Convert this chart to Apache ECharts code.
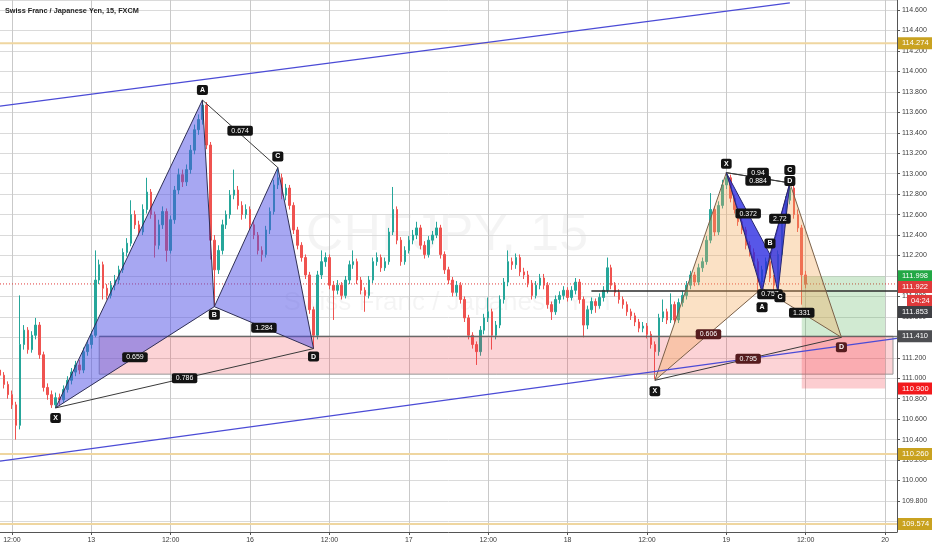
<!DOCTYPE html>
<html lang="en">
<head>
<meta charset="UTF-8">
<title>CHFJPY 15</title>
<script src="https://cdn.jsdelivr.net/npm/echarts@6/dist/echarts.min.js"></script>
<style>html,body{margin:0;padding:0;background:#fff;}</style>
</head>
<body>
<div id="main" style="width:932px;height:550px;"></div>
<script>
// x axis: one category per bar, a time label every 20 bars
const timeLabels = ['12:00', '13', '12:00', '16', '12:00', '17', '12:00', '18', '12:00', '19', '12:00', '20'];
const firstLabelBar = 3;
const barsPerLabel = 20;
const barCount = 227;

// candles: [open, close, low, high]
const ohlc = [
  [111.08,111.03,110.99,111.12],[111.03,110.94,110.90,111.06],[110.94,110.84,110.80,110.97],[110.84,110.74,110.70,110.88],
  [110.74,110.54,110.40,110.77],[110.54,111.33,110.50,111.81],[111.33,111.47,111.28,111.52],[111.47,111.28,111.24,111.50],
  [111.28,111.42,111.25,111.46],[111.42,111.52,111.38,111.59],[111.52,111.23,111.19,111.55],[111.23,110.91,110.87,111.26],
  [110.91,110.84,110.79,110.95],[110.84,110.74,110.71,110.88],[110.74,110.81,110.71,110.86],[110.81,110.79,110.74,110.85],
  [110.79,110.89,110.76,110.93],[110.89,110.98,110.86,111.02],[110.98,111.06,110.94,111.10],[111.06,111.13,111.02,111.17],
  [111.13,111.08,111.04,111.18],[111.08,111.26,111.05,111.30],[111.26,111.33,111.22,111.37],[111.33,111.42,111.29,111.46],
  [111.42,111.96,111.40,112.25],[111.96,112.11,111.92,112.16],[112.11,111.88,111.77,112.14],[111.88,111.81,111.77,111.92],
  [111.81,111.91,111.78,111.95],[111.91,111.96,111.86,112.01],[111.96,112.06,111.92,112.10],[112.06,112.23,112.03,112.27],
  [112.23,112.32,112.19,112.37],[112.32,112.60,112.29,112.74],[112.60,112.50,112.46,112.64],[112.50,112.43,112.39,112.54],
  [112.43,112.65,112.40,112.70],[112.65,112.82,112.61,112.96],[112.82,112.60,112.56,112.85],[112.60,112.30,112.18,112.63],
  [112.30,112.50,112.26,112.55],[112.50,112.63,112.46,112.68],[112.63,112.25,112.14,112.66],[112.25,112.55,112.22,112.59],
  [112.55,112.84,112.51,112.88],[112.84,112.99,112.80,113.05],[112.99,112.92,112.87,113.04],[112.92,113.04,112.88,113.09],
  [113.04,113.23,113.00,113.28],[113.23,113.43,113.19,113.48],[113.43,113.53,113.38,113.58],[113.53,113.67,113.48,113.72],
  [113.67,113.28,113.24,113.70],[113.28,112.35,112.16,113.31],[112.35,112.06,111.70,112.40],[112.06,112.25,112.02,112.30],
  [112.25,112.50,112.21,112.55],[112.50,112.60,112.46,112.64],[112.60,112.79,112.56,112.84],[112.79,112.84,112.75,113.04],
  [112.84,112.69,112.65,112.88],[112.69,112.60,112.55,112.73],[112.60,112.65,112.56,112.70],[112.65,112.50,112.46,112.68],
  [112.50,112.40,112.36,112.54],[112.40,112.25,112.21,112.43],[112.25,112.21,112.14,112.29],[112.21,112.45,112.18,112.49],
  [112.45,112.63,112.41,112.67],[112.63,112.89,112.60,112.94],[112.89,112.96,112.85,113.06],[112.96,112.79,112.75,113.00],
  [112.79,112.86,112.74,112.90],[112.86,112.69,112.65,112.89],[112.69,112.45,112.41,112.72],[112.45,112.30,112.26,112.48],
  [112.30,112.18,112.14,112.33],[112.18,112.01,111.97,112.21],[112.01,111.67,111.63,112.04],[111.67,111.42,111.29,111.70],
  [111.42,112.01,111.38,112.05],[112.01,112.14,111.97,112.25],[112.14,112.18,112.09,112.23],[112.18,111.91,111.87,112.21],
  [111.91,111.86,111.57,111.95],[111.86,111.91,111.82,111.96],[111.91,111.81,111.77,111.94],[111.81,111.96,111.78,112.00],
  [111.96,112.11,111.92,112.15],[112.11,112.14,112.07,112.25],[112.14,111.96,111.92,112.17],[111.96,111.86,111.82,111.99],
  [111.86,111.81,111.65,111.89],[111.81,111.96,111.78,112.00],[111.96,112.14,111.93,112.18],[112.14,112.18,112.10,112.23],
  [112.18,112.08,112.04,112.21],[112.08,112.14,112.05,112.18],[112.14,112.43,112.11,112.47],[112.43,112.65,112.40,112.87],
  [112.65,112.35,112.31,112.68],[112.35,112.14,112.10,112.38],[112.14,112.25,112.11,112.29],[112.25,112.35,112.22,112.39],
  [112.35,112.40,112.31,112.45],[112.40,112.47,112.36,112.53],[112.47,112.30,112.26,112.50],[112.30,112.21,112.17,112.34],
  [112.21,112.35,112.18,112.39],[112.35,112.40,112.31,112.44],[112.40,112.47,112.37,112.53],[112.47,112.21,112.17,112.50],
  [112.21,112.06,112.02,112.24],[112.06,111.96,111.92,112.09],[111.96,111.84,111.80,111.99],[111.84,111.91,111.80,111.95],
  [111.91,111.77,111.73,111.94],[111.77,111.59,111.55,111.80],[111.59,111.42,111.38,111.62],[111.42,111.33,111.29,111.45],
  [111.33,111.26,111.13,111.36],[111.26,111.47,111.22,111.51],[111.47,111.59,111.43,111.63],[111.59,111.65,111.55,111.79],
  [111.65,111.42,111.28,111.68],[111.42,111.52,111.38,111.56],[111.52,111.77,111.49,111.81],[111.77,111.94,111.73,111.98],
  [111.94,112.14,111.90,112.25],[112.14,112.11,112.06,112.18],[112.11,112.18,112.07,112.22],[112.18,112.04,112.00,112.21],
  [112.04,112.01,111.97,112.08],[112.01,111.93,111.89,112.05],[111.93,111.81,111.77,111.96],[111.81,111.91,111.78,111.95],
  [111.91,111.98,111.87,112.02],[111.98,111.91,111.87,112.02],[111.91,111.72,111.68,111.94],[111.72,111.65,111.57,111.75],
  [111.65,111.77,111.62,111.81],[111.77,111.81,111.73,111.85],[111.81,111.86,111.77,111.90],[111.86,111.79,111.75,111.89],
  [111.79,111.86,111.76,111.90],[111.86,111.94,111.82,111.98],[111.94,111.77,111.73,111.97],[111.77,111.52,111.40,111.80],
  [111.52,111.67,111.48,111.71],[111.67,111.75,111.63,111.79],[111.75,111.71,111.64,111.78],[111.71,111.79,111.68,111.83],
  [111.79,111.86,111.75,111.90],[111.86,112.08,111.83,112.18],[112.08,111.91,111.87,112.11],[111.91,111.84,111.80,111.94],
  [111.84,111.77,111.73,111.87],[111.77,111.72,111.68,111.80],[111.72,111.65,111.61,111.75],[111.65,111.61,111.57,111.68],
  [111.61,111.55,111.51,111.64],[111.55,111.49,111.45,111.58],[111.49,111.51,111.45,111.55],[111.51,111.43,111.39,111.54],
  [111.43,111.33,111.29,111.46],[111.33,111.26,110.99,111.36],[111.26,111.59,111.22,111.63],[111.59,111.65,111.55,111.77],
  [111.65,111.57,111.53,111.68],[111.57,111.72,111.54,111.83],[111.72,111.57,111.53,111.75],[111.57,111.74,111.54,111.78],
  [111.74,111.81,111.70,111.85],[111.81,111.91,111.77,111.95],[111.91,112.01,111.87,112.05],[112.01,111.94,111.90,112.04],
  [111.94,112.08,111.91,112.12],[112.08,112.14,112.04,112.18],[112.14,112.35,112.11,112.39],[112.35,112.65,112.32,112.81],
  [112.65,112.43,112.39,112.68],[112.43,112.69,112.40,112.73],[112.69,112.89,112.66,112.94],[112.89,112.96,112.85,113.01],
  [112.96,112.76,112.72,112.99],[112.76,112.65,112.61,112.79],[112.65,112.53,112.49,112.68],[112.53,112.45,112.41,112.57],
  [112.45,112.30,112.26,112.48],[112.30,112.23,112.19,112.34],[112.23,112.14,112.10,112.27],[112.14,111.94,111.84,112.17],
  [111.94,112.06,111.90,112.10],[112.06,112.14,112.02,112.18],[112.14,111.98,111.94,112.21],[111.98,111.91,111.84,112.01],
  [111.91,112.21,111.88,112.25],[112.21,112.55,112.18,112.59],[112.55,112.74,112.51,112.78],[112.74,112.86,112.70,112.91],
  [112.86,112.60,112.56,112.89],[112.60,112.47,112.43,112.65],[112.47,112.01,111.72,112.50],[112.01,111.92,111.88,112.05]
];

// y axis range (prices at top and bottom edge of the plot)
const priceMin = 109.497;
const priceMax = 114.698;

// horizontal levels
const goldLevels = [114.274, 110.260, 109.574];
const lastPrice = 111.922;
const countdown = '04:24';
const patternLevel = { from: 149, price: 111.853 };
const zoneLine = { from: 25, price: 111.410 };

// zones: [fromBar, toBar, top, bottom]
const demandZone = [25, 225, 111.41, 111.04];
const targetBox = [202, 223, 111.998, 111.41];
const stopBox = [202, 223, 111.41, 110.90];

// trend channel: [bar, price] end points
const upperChannel = [[0, 113.66], [199, 114.67]];
const lowerChannel = [[0, 110.19], [226, 111.39]];

// harmonic patterns: X, A, B, C, D as [bar, price]
const leftPattern = { X: [14, 110.71], A: [51, 113.72], B: [54, 111.70], C: [70, 113.06], D: [79, 111.29] };
const leftRatios = { XB: '0.659', AC: '0.674', BD: '1.284', XD: '0.786' };
const beigePattern = { X: [165, 110.98], A: [183, 113.01], B: [192, 111.88], C: [199, 112.91], D: [212, 111.40] };
const beigeRatios = { XB: '0.606', AC: '0.94', BD: '1.331', XD: '0.795' };
const bluePattern = { X: [183, 113.01], A: [192, 111.84], B: [194, 112.21], C: [196, 111.84], D: [199, 112.91] };
const blueRatios = { XB: '0.372', AC: '0.757', BD: '2.72', XD: '0.884' };

// price tags on the right axis: [price, text, colour, vertical shift]
const axisTags = [
  [114.274, '114.274', '#c9a220', 0],
  [111.998, '111.998', '#22a845', 0],
  [111.922, '111.922', '#e0393a', 3],
  [111.922, countdown, '#e0393a', 17],
  [111.853, '111.853', '#3f4045', 21],
  [111.410, '111.410', '#4d4e52', 0],
  [110.900, '110.900', '#f2191c', 0],
  [110.260, '110.260', '#c9a220', 0],
  [109.574, '109.574', '#c9a220', 0]
];

const categories = [];
for (let i = 0; i < barCount; i++) categories.push(String(i));

function isLabelBar(i) {
  return i >= firstLabelBar && (i - firstLabelBar) % barsPerLabel === 0;
}

const FONT = '"Liberation Sans", Arial, sans-serif';

// ---------- shape lists for the custom series ----------
const levelShapes = [];
goldLevels.forEach(p => levelShapes.push({ kind: 'seg', pts: [[0, p], [barCount - 1, p]], stroke: '#efd6a0', width: 2 }));
levelShapes.push({ kind: 'seg', pts: [[0, lastPrice], [barCount - 1, lastPrice]], stroke: '#e0393a', width: 1, dash: [1, 2] });

const zoneShapes = [
  { kind: 'rect', pts: [[demandZone[0], demandZone[2]], [demandZone[1], demandZone[3]]], fill: 'rgba(242,54,69,0.22)', stroke: '#9a9a9a' },
  { kind: 'rect', pts: [[targetBox[0], targetBox[2]], [targetBox[1], targetBox[3]]], fill: 'rgba(76,175,80,0.26)' },
  { kind: 'rect', pts: [[stopBox[0], stopBox[2]], [stopBox[1], stopBox[3]]], fill: 'rgba(242,54,69,0.25)' },
  { kind: 'seg', pts: [[zoneLine.from, zoneLine.price], [barCount - 1, zoneLine.price]], stroke: '#5a5a5a', width: 1 },
  { kind: 'seg', pts: [[patternLevel.from, patternLevel.price], [barCount - 1, patternLevel.price]], stroke: '#2b2b2b', width: 1.5 }
];

function patternShapes(p, fill, edge) {
  return [
    { kind: 'poly', pts: [p.X, p.A, p.B], fill: fill, stroke: edge },
    { kind: 'poly', pts: [p.B, p.C, p.D], fill: fill, stroke: edge },
    { kind: 'seg', pts: [p.A, p.C], stroke: '#3a3a3a', width: 1 },
    { kind: 'seg', pts: [p.X, p.D], stroke: '#3a3a3a', width: 1 }
  ];
}

const drawShapes = [].concat(
  patternShapes(leftPattern, 'rgba(80,80,230,0.5)', '#2f2f55'),
  patternShapes(beigePattern, 'rgba(243,170,90,0.35)', '#7a6048'),
  patternShapes(bluePattern, 'rgba(40,40,225,0.78)', '#262670'),
  [
    { kind: 'seg', pts: upperChannel, stroke: '#4b4bd6', width: 1.2 },
    { kind: 'seg', pts: lowerChannel, stroke: '#4b4bd6', width: 1.2 }
  ]
);

function ratioTags(p, r, bgs, shifts) {
  return [
    { kind: 'tag', pts: [p.X, p.B], text: r.XB, bg: bgs.XB || '#131313', dy: (shifts.XB || 0) },
    { kind: 'tag', pts: [p.A, p.C], text: r.AC, bg: bgs.AC || '#131313', dy: (shifts.AC || 0) },
    { kind: 'tag', pts: [p.B, p.D], text: r.BD, bg: bgs.BD || '#131313', dy: (shifts.BD || 0) },
    { kind: 'tag', pts: [p.X, p.D], text: r.XD, bg: bgs.XD || '#131313', dy: (shifts.XD || 0) }
  ];
}
const darkRed = '#561c1e';
const tagShapes = [].concat(
  ratioTags(leftPattern, leftRatios, {}, { AC: -3 }),
  ratioTags(beigePattern, beigeRatios, { XB: darkRed, XD: darkRed }, { AC: -5 }),
  ratioTags(bluePattern, blueRatios, {}, { AC: 2, XD: 3 }),
  [
    { kind: 'tag', pts: [leftPattern.X], text: 'X', dy: 10, letter: true },
    { kind: 'tag', pts: [leftPattern.A], text: 'A', dy: -10, letter: true },
    { kind: 'tag', pts: [leftPattern.B], text: 'B', dy: 8, letter: true },
    { kind: 'tag', pts: [leftPattern.C], text: 'C', dy: -11, letter: true },
    { kind: 'tag', pts: [leftPattern.D], text: 'D', dy: 8, letter: true },
    { kind: 'tag', pts: [beigePattern.X], text: 'X', dy: 11, letter: true },
    { kind: 'tag', pts: [beigePattern.D], text: 'D', dy: 10, letter: true, bg: darkRed },
    { kind: 'tag', pts: [beigePattern.C], text: 'C', dy: -13, letter: true },
    { kind: 'tag', pts: [bluePattern.X], text: 'X', dy: -9, letter: true },
    { kind: 'tag', pts: [bluePattern.A], text: 'A', dy: 15, letter: true },
    { kind: 'tag', pts: [bluePattern.B], text: 'B', dy: -11, letter: true },
    { kind: 'tag', pts: [bluePattern.C], text: 'C', dy: 5, dx: 2, letter: true },
    { kind: 'tag', pts: [bluePattern.D], text: 'D', dy: -2, letter: true }
  ]
);

const priceTagShapes = axisTags.map(t => ({ kind: 'axisTag', pts: [[barCount - 1, t[0]]], text: t[1], bg: t[2], dy: t[3] }));

function renderShape(list) {
  return function (params, api) {
    const s = list[params.dataIndex];
    if (s.kind === 'poly') {
      return {
        type: 'polygon',
        shape: { points: s.pts.map(p => api.coord(p)) },
        style: { fill: s.fill, stroke: s.stroke, lineWidth: 1 }
      };
    }
    if (s.kind === 'seg') {
      const a = api.coord(s.pts[0]), b = api.coord(s.pts[1]);
      return {
        type: 'line',
        shape: { x1: a[0], y1: a[1], x2: b[0], y2: b[1] },
        style: { stroke: s.stroke, lineWidth: s.width || 1, lineDash: s.dash || null }
      };
    }
    if (s.kind === 'rect') {
      const a = api.coord(s.pts[0]), b = api.coord(s.pts[1]);
      return {
        type: 'rect',
        shape: { x: a[0], y: a[1], width: b[0] - a[0], height: b[1] - a[1] },
        style: { fill: s.fill, stroke: s.stroke || null, lineWidth: s.stroke ? 1 : 0 }
      };
    }
    if (s.kind === 'tag') {
      let c;
      if (s.pts.length === 2) {
        const a = api.coord(s.pts[0]), b = api.coord(s.pts[1]);
        c = [(a[0] + b[0]) / 2, (a[1] + b[1]) / 2];
      } else {
        c = api.coord(s.pts[0]);
      }
      return {
        type: 'text',
        x: c[0] + (s.dx || 0),
        y: c[1] + (s.dy || 0),
        style: {
          text: s.text,
          fill: '#ffffff',
          font: (s.letter ? 'bold ' : '') + '7px ' + FONT,
          align: 'center',
          verticalAlign: 'middle',
          backgroundColor: s.bg || '#131313',
          padding: s.letter ? [1.5, 3] : [1.5, 4],
          borderRadius: 2
        }
      };
    }
    if (s.kind === 'axisTag') {
      const c = api.coord(s.pts[0]);
      const short = s.text.length < 6;
      return {
        type: 'text',
        x: c[0] + (short ? 10 : 1),
        y: c[1] + (s.dy || 0),
        style: {
          text: s.text,
          fill: '#ffffff',
          font: '7.5px ' + FONT,
          align: 'left',
          verticalAlign: 'middle',
          backgroundColor: s.bg,
          padding: [2, short ? 3 : 4, 2, 4]
        }
      };
    }
    return null;
  };
}

function customSeries(name, list, z) {
  return {
    name: name,
    type: 'custom',
    z: z,
    silent: true,
    renderItem: renderShape(list),
    encode: { x: 0, y: 1 },
    data: list.map(s => [s.pts[0][0], s.pts[0][1]])
  };
}

const myChart = echarts.init(document.getElementById('main'));

const options = {
  animation: false,
  backgroundColor: '#ffffff',
  grid: { left: 0, right: 35, top: 0, bottom: 18 },
  graphic: [
    {
      type: 'text', left: 5, top: 7, z: 10,
      style: { text: 'Swiss Franc / Japanese Yen, 15, FXCM', font: 'bold 7.3px ' + FONT, fill: '#1e1e1e' }
    },
    {
      type: 'text', x: 447, y: 236, z: 0, silent: true,
      style: { text: 'CHFJPY, 15', font: '52px ' + FONT, fill: 'rgba(0,0,0,0.045)', align: 'center', verticalAlign: 'middle' }
    },
    {
      type: 'text', x: 447, y: 303, z: 0, silent: true,
      style: { text: 'Swiss Franc / Japanese Yen', font: '26px ' + FONT, fill: 'rgba(0,0,0,0.045)', align: 'center', verticalAlign: 'middle' }
    }
  ],
  xAxis: {
    type: 'category',
    data: categories,
    boundaryGap: false,
    axisLine: { lineStyle: { color: '#555555', width: 1 } },
    axisTick: { show: true, length: 3, interval: i => isLabelBar(i), lineStyle: { color: '#555555' } },
    axisLabel: {
      interval: i => isLabelBar(i),
      formatter: (v, i) => timeLabels[(i - firstLabelBar) / barsPerLabel] || '',
      color: '#3c3c3c',
      fontSize: 7,
      fontFamily: FONT,
      margin: 5
    },
    splitLine: { show: true, interval: i => isLabelBar(i), lineStyle: { color: '#c9c9c9', width: 1 } }
  },
  yAxis: {
    type: 'value',
    position: 'right',
    min: priceMin,
    max: priceMax,
    splitNumber: 26,
    axisLine: { show: true, lineStyle: { color: '#555555', width: 1 } },
    axisTick: { show: true, length: 3, lineStyle: { color: '#555555' } },
    axisLabel: {
      formatter: v => v.toFixed(3),
      showMinLabel: false,
      showMaxLabel: false,
      color: '#3c3c3c',
      fontSize: 7,
      fontFamily: FONT,
      margin: 5
    },
    splitLine: { show: true, lineStyle: { color: '#dadada', width: 1 } }
  },
  series: [
    customSeries('levels', levelShapes, 1),
    {
      name: 'CHFJPY',
      type: 'candlestick',
      z: 2,
      barWidth: 2,
      data: ohlc,
      itemStyle: {
        color: '#26a69a',
        color0: '#ef5350',
        borderColor: '#26a69a',
        borderColor0: '#ef5350',
        borderWidth: 1
      }
    },
    customSeries('zones', zoneShapes, 3),
    customSeries('patterns', drawShapes, 4),
    customSeries('tags', tagShapes, 5),
    customSeries('axisTags', priceTagShapes, 6)
  ]
};

myChart.setOption(options);
</script>
</body>
</html>
